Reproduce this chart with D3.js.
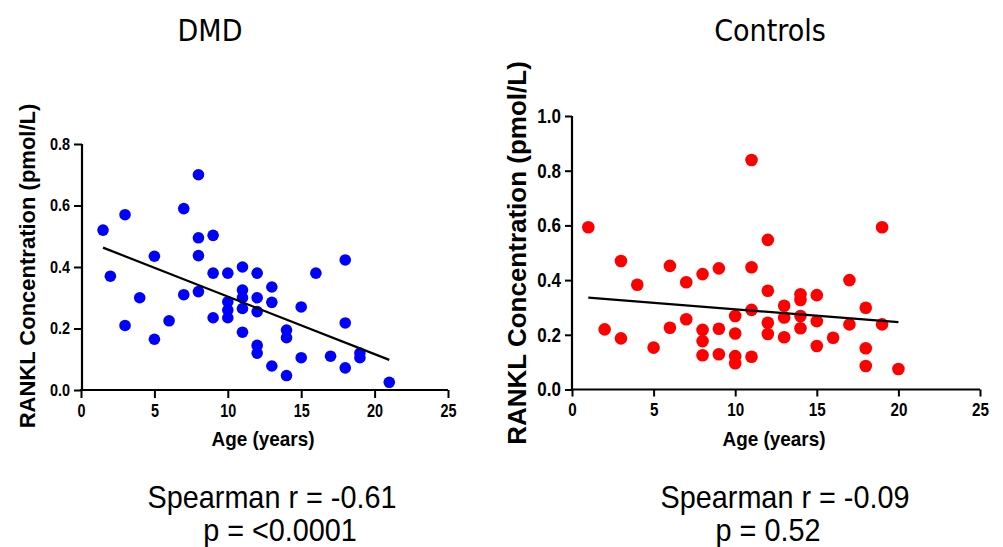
<!DOCTYPE html>
<html>
<head>
<meta charset="utf-8">
<script src="https://cdnjs.cloudflare.com/ajax/libs/d3/7.8.5/d3.min.js"></script>
<style>
  body { margin: 0; background: #fff; }
  svg { display: block; }
</style>
</head>
<body>
<svg id="chart" width="1003" height="547"></svg>
<script>
// DMD group: age (years) and RANKL (pmol/L)
var dmdAge = [1.5, 2, 3, 3, 4, 5, 5, 6, 7, 7, 8, 8, 8, 8, 9, 9, 9, 10, 10, 10, 10,
  11, 11, 11, 11, 11, 12, 12, 12, 12, 12, 13, 13, 13, 14, 14, 14, 15, 15, 16, 17,
  18, 18, 18, 19, 19, 21];
var dmdRankl = [0.52, 0.37, 0.57, 0.21, 0.30, 0.435, 0.165, 0.225, 0.59, 0.31, 0.70,
  0.495, 0.437, 0.32, 0.503, 0.38, 0.235, 0.38, 0.287, 0.26, 0.235,
  0.40, 0.325, 0.30, 0.265, 0.188, 0.38, 0.30, 0.255, 0.145, 0.12, 0.335, 0.285,
  0.078, 0.195, 0.17, 0.047, 0.27, 0.105, 0.38, 0.11, 0.423, 0.218, 0.072, 0.12,
  0.105, 0.025];
var dmdFit = [[1.5, 0.463], [21, 0.098]];

// Controls group
var ctlAge = [1, 2, 3, 3, 4, 5, 6, 6, 7, 7, 8, 8, 8, 8, 9, 9, 9, 10, 10, 10, 10,
  11, 11, 11, 11, 12, 12, 12, 12, 13, 13, 13, 14, 14, 14, 14, 15, 15, 15, 16,
  17, 17, 18, 18, 18, 19, 19, 20];
var ctlRankl = [0.593, 0.220, 0.470, 0.187, 0.383, 0.153, 0.452, 0.226, 0.392, 0.257,
  0.422, 0.218, 0.177, 0.125, 0.443, 0.222, 0.129, 0.269, 0.205, 0.122, 0.096,
  0.839, 0.447, 0.291, 0.120, 0.547, 0.361, 0.244, 0.203, 0.306, 0.263, 0.191,
  0.348, 0.327, 0.269, 0.224, 0.345, 0.250, 0.159, 0.189, 0.400, 0.238, 0.299,
  0.151, 0.086, 0.593, 0.238, 0.075];
var ctlFit = [[1, 0.336], [20, 0.246]];

var xTicks = [0, 5, 10, 15, 20, 25];
var dmdYTicks = [0.0, 0.2, 0.4, 0.6, 0.8];
var ctlYTicks = [0.0, 0.2, 0.4, 0.6, 0.8, 1.0];
var titles = ['DMD', 'Controls'];
var stats = [['Spearman r = -0.61', 'p = <0.0001'], ['Spearman r = -0.09', 'p = 0.52']];

var svg = d3.select('#chart');
var sansFont = '"Liberation Sans", Arial, sans-serif';

// squeeze text horizontally (no narrow font installed)
function narrow(sel, f) {
  sel.each(function() {
    var w = this.getComputedTextLength();
    d3.select(this).attr('textLength', w * f).attr('lengthAdjust', 'spacingAndGlyphs');
  });
}

var panels = [
  { age: dmdAge, val: dmdRankl, fit: dmdFit, yTicks: dmdYTicks, yMax: 0.8,
    color: '#0000ff', r: 5.8,
    x0: 81, x1: 448, y0: 390, y1: 144, yAxisX: 82,
    yLabelX: 27, yLabelY: 266, yLabelSize: 22, yTickSize: 17, xTickSize: 18, tickLen: 8,
    title: titles[0], titleX: 210, stats: stats[0], statX: 272, statX2: 280, ageX: 263 },
  { age: ctlAge, val: ctlRankl, fit: ctlFit, yTicks: ctlYTicks, yMax: 1.0,
    color: '#ff0000', r: 6.3,
    x0: 572, x1: 980, y0: 389.5, y1: 116, yAxisX: 572,
    yLabelX: 517, yLabelY: 253, yLabelSize: 26, yTickSize: 20, xTickSize: 19, tickLen: 7,
    title: titles[1], titleX: 770, stats: stats[1], statX: 785, statX2: 768, ageX: 774 }
];

panels.forEach(function(p) {
  var x = d3.scaleLinear().domain([0, 25]).range([p.x0, p.x1]);
  var y = d3.scaleLinear().domain([0, p.yMax]).range([p.y0, p.y1]);

  var g = svg.append('g');

  // y axis
  var yAxis = g.append('g')
    .attr('transform', 'translate(' + p.yAxisX + ',0)')
    .call(d3.axisLeft(y).tickValues(p.yTicks).tickFormat(d3.format('.1f'))
      .tickSize(p.tickLen).tickPadding(4));
  yAxis.select('.domain').attr('stroke-width', 2.2).attr('d', 'M0,' + p.y0 + 'V' + p.y1);
  yAxis.selectAll('.tick line').attr('stroke-width', 2);
  yAxis.selectAll('.tick text')
    .style('font-family', sansFont)
    .style('font-weight', 'bold')
    .style('font-size', p.yTickSize + 'px')
    .attr('fill', '#000')
    .call(narrow, 0.85);

  // x axis
  var xAxis = g.append('g')
    .attr('transform', 'translate(0,' + p.y0 + ')')
    .call(d3.axisBottom(x).tickValues(xTicks).tickSize(p.tickLen).tickPadding(6));
  xAxis.select('.domain').attr('stroke-width', 2.2).attr('d', 'M' + (p.x0 - 1) + ',0H' + p.x1);
  xAxis.selectAll('.tick line').attr('stroke-width', 2);
  xAxis.selectAll('.tick text')
    .style('font-family', sansFont)
    .style('font-weight', 'bold')
    .style('font-size', p.xTickSize + 'px')
    .attr('fill', '#000')
    .call(narrow, 0.8);

  // points
  g.append('g').selectAll('circle')
    .data(p.age.map(function(a, i) { return [a, p.val[i]]; }))
    .enter().append('circle')
    .attr('cx', function(d) { return x(d[0]); })
    .attr('cy', function(d) { return y(d[1]); })
    .attr('r', p.r)
    .attr('fill', p.color);

  // fit line
  g.append('path')
    .datum(p.fit)
    .attr('d', d3.line().x(function(d) { return x(d[0]); }).y(function(d) { return y(d[1]); }))
    .attr('stroke', '#000')
    .attr('stroke-width', 2.2)
    .attr('fill', 'none');

  // y label
  g.append('text')
    .attr('transform', 'translate(' + p.yLabelX + ',' + p.yLabelY + ') rotate(-90)')
    .attr('text-anchor', 'middle')
    .attr('dy', '0.36em')
    .style('font-family', sansFont)
    .style('font-weight', 'bold')
    .style('font-size', p.yLabelSize + 'px')
    .text('RANKL Concentration (pmol/L)');

  // x label
  g.append('text')
    .attr('x', p.ageX)
    .attr('y', 446)
    .attr('text-anchor', 'middle')
    .style('font-family', sansFont)
    .style('font-weight', 'bold')
    .style('font-size', '21px')
    .text('Age (years)')
    .call(narrow, 0.9);

  // title
  g.append('text')
    .attr('x', p.titleX)
    .attr('y', 41)
    .attr('text-anchor', 'middle')
    .style('font-family', '"DejaVu Sans Condensed", "DejaVu Sans", sans-serif')
    .style('font-stretch', 'condensed')
    .style('font-size', '30px')
    .text(p.title);

  // stats
  g.append('text')
    .attr('x', p.statX)
    .attr('y', 508)
    .attr('text-anchor', 'middle')
    .style('font-family', sansFont)
    .style('font-size', '32px')
    .text(p.stats[0])
    .call(narrow, 0.9);
  g.append('text')
    .attr('x', p.statX2)
    .attr('y', 541)
    .attr('text-anchor', 'middle')
    .style('font-family', sansFont)
    .style('font-size', '32px')
    .text(p.stats[1])
    .call(narrow, 0.9);
});
</script>
</body>
</html>
